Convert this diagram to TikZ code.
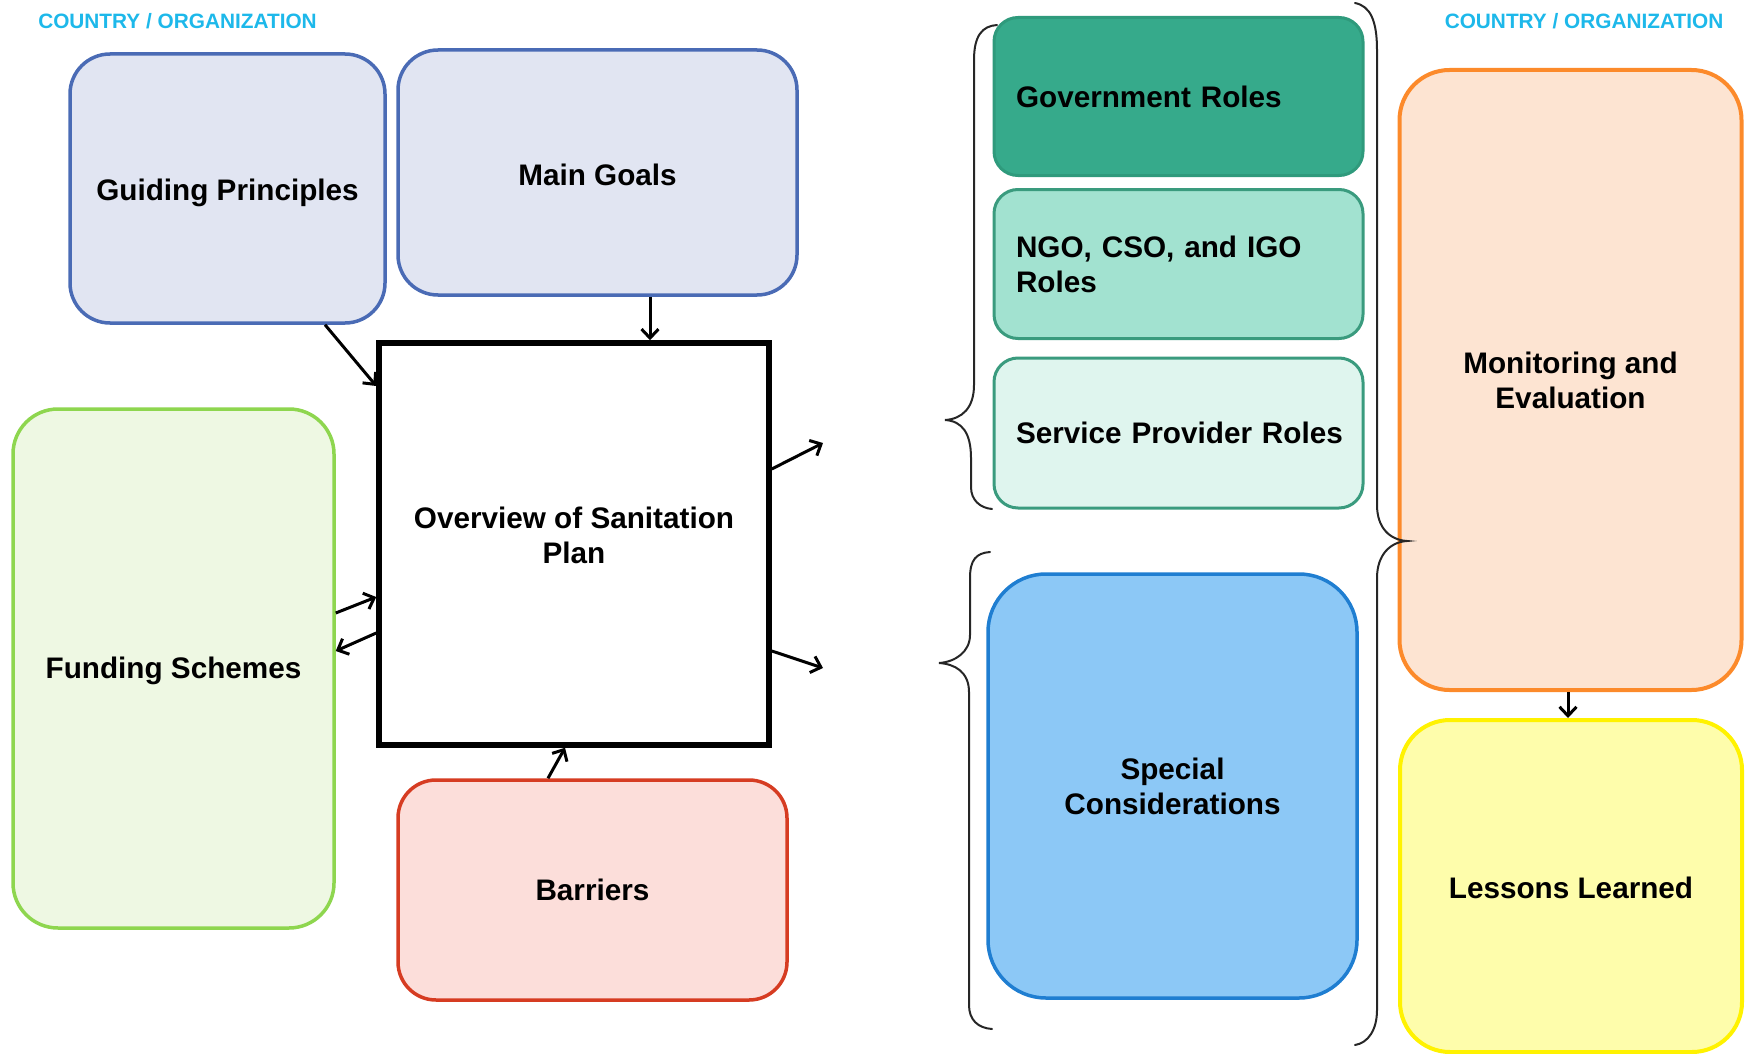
\documentclass[tikz,border=0pt]{standalone}
\usepackage{fontspec}
\setmainfont{Liberation Sans}
\usetikzlibrary{arrows.meta,calc}

\definecolor{tagcyan}{HTML}{1DB8EA}
\definecolor{lavfill}{HTML}{E1E5F2}
\definecolor{lavline}{HTML}{4A6BB5}
\definecolor{grnfill}{HTML}{EEF8E3}
\definecolor{grnline}{HTML}{8ED64F}
\definecolor{redfill}{HTML}{FCDEDA}
\definecolor{redline}{HTML}{D63C22}
\definecolor{govfill}{HTML}{36AA8B}
\definecolor{govline}{HTML}{2F9A7C}
\definecolor{ngofill}{HTML}{A2E2D0}
\definecolor{tealline}{HTML}{3A9B7E}
\definecolor{spfill}{HTML}{DFF5EE}
\definecolor{bluefill}{HTML}{8CC8F6}
\definecolor{blueline}{HTML}{1F7ED1}
\definecolor{orgfill}{HTML}{FDE4D2}
\definecolor{orgline}{HTML}{FC8A2B}
\definecolor{yelfill}{HTML}{FEFDAB}
\definecolor{yelline}{HTML}{FFF200}

\tikzset{
  box/.style={rectangle, rounded corners=#1, line width=3.5pt, inner sep=0pt,
    align=center, font=\bfseries\fontsize{29.7}{35}\selectfont},
  box/.default=40pt,
  rolebox/.style={box=24pt, line width=3pt, minimum width=369pt, inner xsep=22pt,
    text width=325pt, align=left},
  tag/.style={text=tagcyan, font=\bfseries\fontsize{20.8}{24}\selectfont, inner sep=0pt},
  conn/.style={line width=3pt, -{Straight Barb[length=9pt,width=17pt]}},
  brace/.style={line width=2pt, black!85, line cap=round},
}

\begin{document}
\begin{tikzpicture}[x=1pt,y=-1pt]
\useasboundingbox (0,0) rectangle (1748,1054);

% headings
\node[tag] (tagl) at (177.5,21) {COUNTRY / ORGANIZATION};
\node[tag] (tagr) at (1584,21) {COUNTRY / ORGANIZATION};

% left-hand boxes
\node[box, fill=lavfill, draw=lavline, minimum width=315pt, minimum height=269pt,
  text height=30pt]
  (gp) at (227.5,188.5) {Guiding Principles};
\node[box, fill=lavfill, draw=lavline, minimum width=399pt, minimum height=245pt,
  text height=25.5pt]
  (mg) at (597.5,172.5) {Main Goals};
\node[box=0pt, fill=white, draw=black, line width=5.5pt, minimum width=390pt, minimum height=402pt,
  text depth=18pt]
  (ov) at (574,544) {Overview of Sanitation\\Plan};
\node[box=45pt, fill=grnfill, draw=grnline, minimum width=321pt, minimum height=519pt,
  text height=25.5pt]
  (fs) at (173.5,668.5) {Funding Schemes};
\node[box=38pt, fill=redfill, draw=redline, minimum width=389pt, minimum height=220pt]
  (ba) at (592.5,890) {Barriers};

% roles
\node[rolebox, fill=govfill, draw=govline, minimum height=158pt]
  (gr) at (1178.5,96.5) {Government Roles};
\node[rolebox, fill=ngofill, draw=tealline, minimum height=149pt]
  (ngo) at (1178.5,264) {NGO, CSO, and IGO\\Roles};
\node[rolebox, fill=spfill, draw=tealline, minimum height=150pt]
  (sp) at (1178.5,433) {\mbox{Service Provider Roles}};
\node[box=58pt, fill=bluefill, draw=blueline, minimum width=369pt, minimum height=424pt]
  (sc) at (1172.5,786) {Special\\Considerations};

% right column
\node[box=50pt, fill=orgfill, draw=orgline, line width=4pt, minimum width=342pt, minimum height=620pt]
  (me) at (1570.5,380) {Monitoring and\\Evaluation};
\node[box=50pt, fill=yelfill, draw=yelline, line width=4pt, minimum width=342pt, minimum height=332pt,
  text height=25.5pt]
  (ll) at (1571,886) {Lessons Learned};

% free ends of the two outgoing arrows
\coordinate (outa) at (823,443);
\coordinate (outb) at (823,668);

% connectors
\draw[conn] ([xshift=97.5pt]gp.south) -- ([yshift=158pt]ov.west);
\draw[conn] ([xshift=52.5pt]mg.south) -- ([xshift=52.5pt]mg.south |- ov.north);
\draw[conn] ([yshift=55.5pt]fs.east) -- ([yshift=-53pt]ov.west);
\draw[conn] ([yshift=-89pt]ov.west) -- ([yshift=17.5pt]fs.east);
\draw[conn] ([xshift=-44.5pt]ba.north) -- ([xshift=-9pt]ov.south);
\draw[conn] ([yshift=75pt]ov.east) -- (outa);
\draw[conn] ([yshift=-107pt]ov.east) -- (outb);
\draw[conn] ([xshift=-2.5pt]me.south) -- ([xshift=-2.5pt]me.south |- ll.north);

% braces
\draw[brace] (997,25) .. controls (982,26) and (974,36) .. (974,60) -- (974,385)
  .. controls (974,408) and (962,419) .. (945,420)
  .. controls (962,421) and (971,433) .. (971,458) -- (971,487)
  .. controls (971,500) and (980,508) .. (992,509);
\draw[brace] (990,552) .. controls (976,553) and (970,560) .. (970,578) -- (970,635)
  .. controls (970,652) and (955,662) .. (939,663)
  .. controls (955,664) and (969,672) .. (969,692) -- (969,1005)
  .. controls (969,1020) and (978,1028) .. (992,1029);
\draw[brace] (1355,3) .. controls (1370,6) and (1377,20) .. (1377,50) -- (1377,505)
  .. controls (1377,528) and (1390,540) .. (1407,541)
  .. controls (1390,542) and (1377,555) .. (1377,578) -- (1377,1010)
  .. controls (1377,1030) and (1368,1043) .. (1355,1045);
\end{tikzpicture}
\end{document}
